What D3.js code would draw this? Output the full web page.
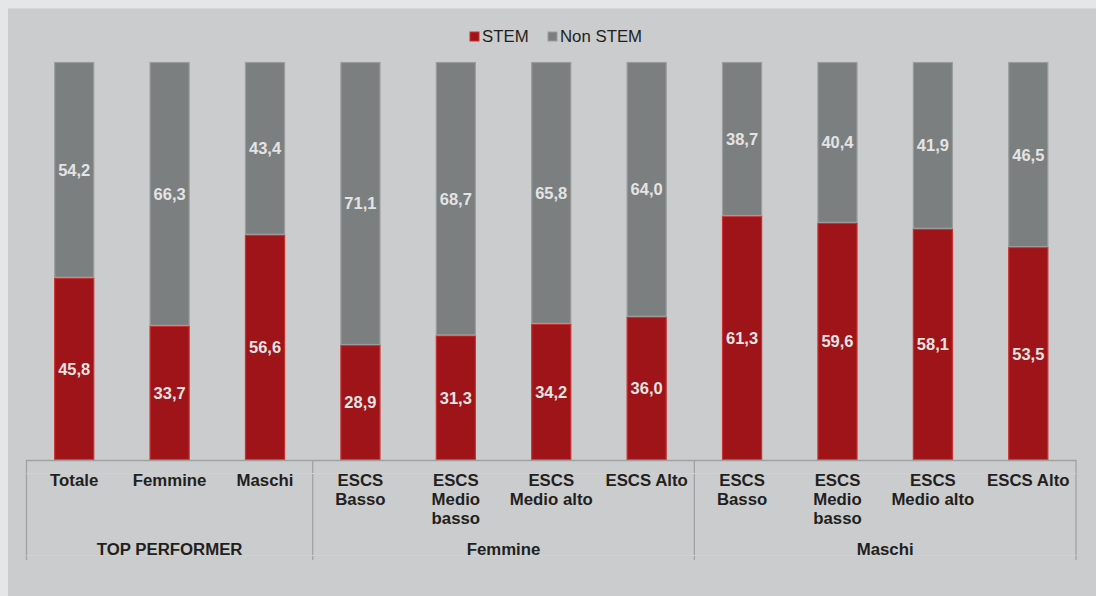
<!DOCTYPE html>
<html><head><meta charset="utf-8">
<script src="https://cdn.jsdelivr.net/npm/d3@7"></script>
<style>html,body{margin:0;padding:0;background:#e5e6e8;}svg{display:block;}</style>
</head><body>
<svg id="chart" width="1096" height="596"></svg>
<script>
const categories = ["Totale","Femmine","Maschi","ESCS\nBasso","ESCS\nMedio\nbasso","ESCS\nMedio alto","ESCS Alto","ESCS\nBasso","ESCS\nMedio\nbasso","ESCS\nMedio alto","ESCS Alto"];
const stemValues = [45.8,33.7,56.6,28.9,31.3,34.2,36.0,61.3,59.6,58.1,53.5];
const nonStemValues = [54.2,66.3,43.4,71.1,68.7,65.8,64.0,38.7,40.4,41.9,46.5];
const groups = [{name:"TOP PERFORMER",start:0,end:3},{name:"Femmine",start:3,end:7},{name:"Maschi",start:7,end:11}];
const seriesNames = ["STEM","Non STEM"];

const svg = d3.select("#chart");
svg.append("rect").attr("x",8).attr("y",8).attr("width",1088).attr("height",588).attr("fill","#cbcccd");
svg.append("line").attr("x1",8).attr("x2",1096).attr("y1",8.5).attr("y2",8.5).attr("stroke","#d6d7d8");

const ids = categories.map((c,i)=>i);
const x = d3.scaleBand().domain(ids).range([26.5,1076]).paddingInner(0.58).paddingOuter(0.29);
const y = d3.scaleLinear().domain([0,100]).range([460,62]);
const fmt = v => d3.format(".1f")(v).replace(".",",");
const FONT = "Liberation Sans, Arial, sans-serif";

const colors = {STEM:{fill:"#9e1418",stroke:"#c9302f"},"Non STEM":{fill:"#7b7f7f",stroke:"#9a9c9d"}};

ids.forEach(i=>{
  const s = stemValues[i], n = nonStemValues[i];
  const segs = [{k:"STEM",y0:0,y1:s,v:s},{k:"Non STEM",y0:s,y1:s+n,v:n}];
  segs.forEach(sg=>{
    svg.append("rect").attr("x",x(i)+0.5).attr("width",x.bandwidth()-1)
      .attr("y",y(sg.y1)+0.5).attr("height",y(sg.y0)-y(sg.y1)-1)
      .attr("fill",colors[sg.k].fill).attr("stroke",colors[sg.k].stroke).attr("stroke-width",1.2);
    svg.append("text").attr("x",x(i)+x.bandwidth()/2).attr("y",(y(sg.y0)+y(sg.y1))/2)
      .attr("text-anchor","middle").attr("dominant-baseline","central")
      .attr("font-family",FONT).attr("font-weight","bold").attr("font-size",16.5)
      .attr("fill","#e4e4e4").text(fmt(sg.v));
  });
});

// axis box
const ax = svg.append("g").attr("stroke","#9fa1a3").attr("stroke-width",1.3).attr("fill","none");
const left = x(0) - x.step()*x.paddingOuter();
const bx = i => left + x.step()*i;
ax.append("line").attr("x1",left).attr("x2",bx(11)).attr("y1",460.5).attr("y2",460.5);
[0,3,7,11].forEach(i=>{
  ax.append("line").attr("x1",bx(i)).attr("x2",bx(i)).attr("y1",460).attr("y2",560);
});
svg.append("line").attr("x1",left).attr("x2",bx(11)).attr("y1",473.5).attr("y2",473.5).attr("stroke","#cfd0d1").attr("stroke-width",1);
svg.append("line").attr("x1",left).attr("x2",bx(11)).attr("y1",555.5).attr("y2",555.5).attr("stroke","#cfd0d1").attr("stroke-width",1);

// category labels
ids.forEach(i=>{
  const lines = categories[i].split("\n");
  const t = svg.append("text").attr("x",x(i)+x.bandwidth()/2).attr("y",486)
    .attr("text-anchor","middle").attr("font-family",FONT)
    .attr("font-weight","bold").attr("font-size",16.8).attr("fill","#231f20");
  lines.forEach((l,j)=>t.append("tspan").attr("x",x(i)+x.bandwidth()/2).attr("y",486+j*19).text(l));
});
groups.forEach(g=>{
  svg.append("text").attr("x",(bx(g.start)+bx(g.end))/2).attr("y",555)
    .attr("text-anchor","middle").attr("font-family",FONT)
    .attr("font-weight","bold").attr("font-size",16.8).attr("fill","#231f20").text(g.name);
});

// legend
const leg = [{k:"STEM",x:470},{k:"Non STEM",x:548}];
leg.forEach(l=>{
  svg.append("rect").attr("x",l.x).attr("y",32).attr("width",9).attr("height",9).attr("fill",colors[l.k].fill).attr("stroke",colors[l.k].stroke).attr("stroke-width",1);
  svg.append("text").attr("x",l.x+12).attr("y",42).attr("font-family",FONT)
    .attr("font-size",16.8).attr("fill","#231f20").text(l.k);
});
</script>
</body></html>
